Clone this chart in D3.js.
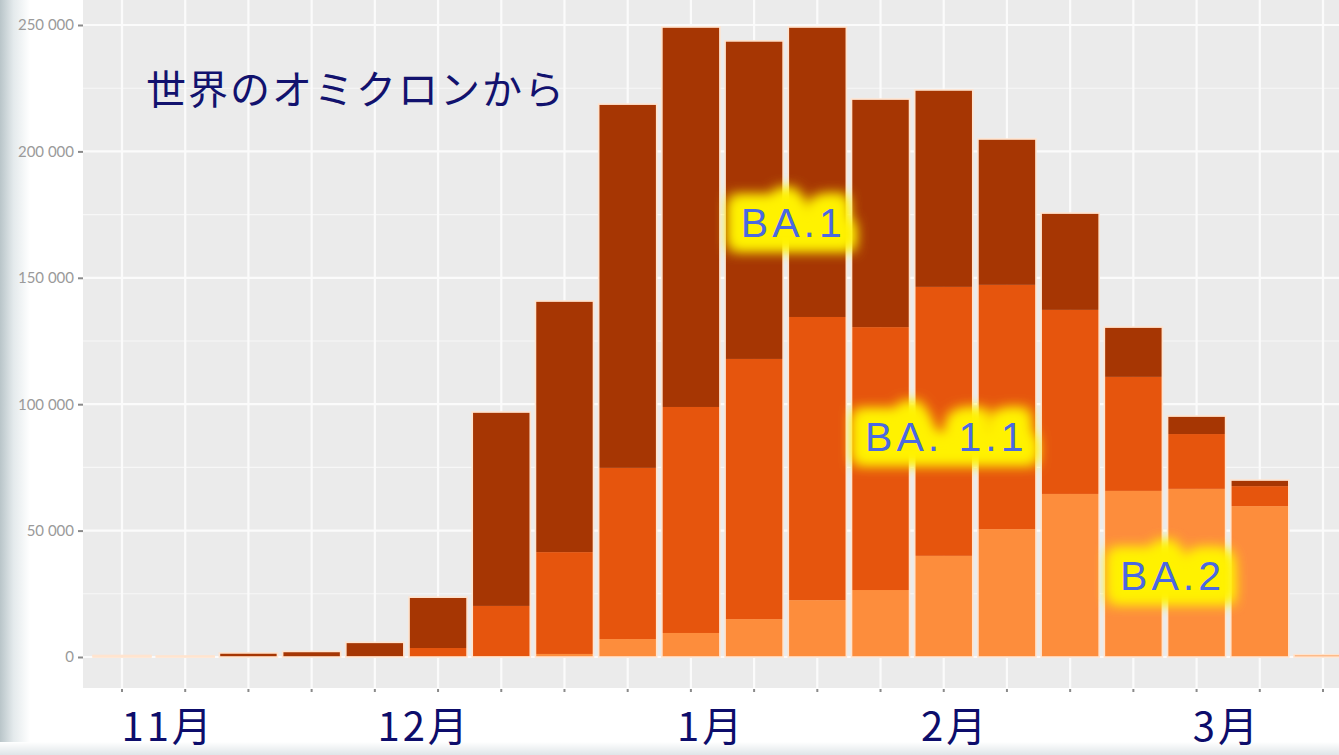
<!DOCTYPE html>
<html><head><meta charset="utf-8">
<script src="https://cdn.jsdelivr.net/npm/d3@7"></script>
<style>html,body{margin:0;padding:0;background:#fff;overflow:hidden}</style>
</head><body>
<svg id="c" width="1339" height="755"></svg>
<script>
// ---- data ----
const weeks = d3.range(20).map(i => "w" + (i + 1));
const ba2  = [0,   400, 0,    0,    0,    0,     300,   1200,  7100,   9500,   15000,  22500,  26500,  40000,  50600,  64500, 65700, 66500, 59700, 900];
const ba11 = [0,   0,   0,    0,    300,  3560,  19900, 40300, 67700,  89400,  102900, 112000, 104000, 106400, 96600,  72800, 45100, 21700, 7900,  0];
const ba1  = [600, 0,   1600, 2200, 5500, 20100, 76700, 99300, 143900, 150300, 125800, 114700, 90200,  77900,  57700,  38300, 19700, 7100,  2400,  0];
const seriesNames = ["BA.2", "BA.1.1", "BA.1"];
const yTicks = [0, 50000, 100000, 150000, 200000, 250000];
const titleText = "世界のオミクロンから";
const monthLabels = ["11月", "12月", "1月", "2月", "3月"];
const monthAt = [0.73, 4.78, 9.32, 13.18, 17.48];   // in week-index units
const variantLabels = ["BA.1", "BA. 1.1", "BA.2"];
const variantAtX = [10.62, 13.04, 16.62];             // week-index units
const variantAtY = [172000, 87500, 32500];            // value units

// ---- layout ----
const W = 1339, H = 755;
const panel = {x0: 83, x1: 1362, y0: 0, y1: 688};
const svg = d3.select("#c");
const defs = svg.append("defs");

const x = d3.scaleBand().domain(weeks).range([panel.x0, panel.x1]).paddingInner(0.082).paddingOuter(0.158);
const y = d3.scaleLinear().domain([0, 250000]).range([657, 25]);
const xi = i => x(weeks[0]) + x.bandwidth() / 2 + i * x.step();

const colors = {"BA.2": "#fd8d3c", "BA.1.1": "#e6550d", "BA.1": "#a63603"};

// left/bottom edge shading
const lg = defs.append("linearGradient").attr("id", "lg").attr("x1", 0).attr("x2", 1);
lg.append("stop").attr("offset", "0").attr("stop-color", "#b9c5c9");
lg.append("stop").attr("offset", "0.45").attr("stop-color", "#e4eaec");
lg.append("stop").attr("offset", "1").attr("stop-color", "#ffffff");
const bg = defs.append("linearGradient").attr("id", "bg").attr("x1", 0).attr("x2", 0).attr("y1", 0).attr("y2", 1);
bg.append("stop").attr("offset", "0").attr("stop-color", "#ffffff");
bg.append("stop").attr("offset", "1").attr("stop-color", "#dfe5e8");

svg.append("rect").attr("width", W).attr("height", H).attr("fill", "#fff");
svg.append("rect").attr("x", 0).attr("y", 0).attr("width", 30).attr("height", H).attr("fill", "url(#lg)");
svg.append("rect").attr("x", 0).attr("y", 742).attr("width", W).attr("height", 13).attr("fill", "url(#bg)");

// panel
defs.append("clipPath").attr("id", "pc").append("rect")
  .attr("x", panel.x0).attr("y", panel.y0).attr("width", W - panel.x0).attr("height", panel.y1 - panel.y0);
const g = svg.append("g").attr("clip-path", "url(#pc)");
g.append("rect").attr("x", panel.x0).attr("y", panel.y0).attr("width", panel.x1 - panel.x0).attr("height", panel.y1 - panel.y0).attr("fill", "#ebebeb");

// grid
const minor = d3.range(25000, 300000, 50000);
g.selectAll(".ymin").data(minor).join("line")
  .attr("x1", panel.x0).attr("x2", panel.x1).attr("y1", d => y(d)).attr("y2", d => y(d))
  .attr("stroke", "#f7f7f7").attr("stroke-width", 1.1);
g.selectAll(".ymaj").data(yTicks).join("line")
  .attr("x1", panel.x0).attr("x2", panel.x1).attr("y1", d => y(d)).attr("y2", d => y(d))
  .attr("stroke", "#fbfbfb").attr("stroke-width", 2.2);
g.selectAll(".xmaj").data(weeks).join("line")
  .attr("x1", d => x(d) + x.bandwidth() / 2).attr("x2", d => x(d) + x.bandwidth() / 2)
  .attr("y1", panel.y0).attr("y2", panel.y1)
  .attr("stroke", "#fbfbfb").attr("stroke-width", 2.2);

// stacked bars
const table = weeks.map((w, i) => ({week: w, "BA.2": ba2[i], "BA.1.1": ba11[i], "BA.1": ba1[i]}));
const stack = d3.stack().keys(seriesNames)(table);
g.selectAll(".layer").data(stack).join("g")
  .attr("fill", d => colors[d.key])
  .selectAll("rect").data(d => d).join("rect")
  .attr("x", d => x(d.data.week)).attr("width", x.bandwidth())
  .attr("y", d => y(d[1])).attr("height", d => Math.max(0, y(d[0]) - y(d[1])));
// bar outlines
g.selectAll(".outline").data(table).join("rect")
  .attr("x", d => x(d.week)).attr("width", x.bandwidth())
  .attr("y", d => y(d["BA.2"] + d["BA.1.1"] + d["BA.1"]))
  .attr("height", d => Math.max(0, y(0) - y(d["BA.2"] + d["BA.1.1"] + d["BA.1"])))
  .attr("fill", "none").attr("stroke", "#ffe4cf").attr("stroke-width", 1.6);

// axes
const fmt = d3.formatLocale({decimal: ".", thousands: " ", grouping: [3], currency: ["", ""]}).format(",d");
const ya = svg.append("g").attr("transform", `translate(${panel.x0},0)`)
  .call(d3.axisLeft(y).tickValues(yTicks).tickFormat(fmt).tickSize(5).tickPadding(4));
ya.select(".domain").remove();
ya.selectAll("line").attr("stroke", "#8a8a8a").attr("stroke-width", 2);
ya.selectAll("text").attr("fill", "#9a9a9a").style("font-family", "Lato, 'Open Sans', sans-serif").style("font-size", "15px");

const xa = svg.append("g").attr("transform", `translate(0,${panel.y1})`)
  .call(d3.axisBottom(x).tickSize(4).tickFormat(""));
xa.select(".domain").remove();
xa.selectAll("line").attr("stroke", "#8a8a8a").attr("stroke-width", 2).attr("y1", 1);

// title
svg.append("text").attr("x", 146).attr("y", 104).text(titleText)
  .attr("fill", "#12126e").style("font-family", "'Noto Sans CJK JP', sans-serif")
  .style("font-size", "40px").style("letter-spacing", "2px");

// month labels
svg.selectAll(".month").data(monthLabels).join("text")
  .attr("x", (d, i) => xi(monthAt[i])).attr("y", 741).attr("text-anchor", "middle")
  .text(d => d).attr("fill", "#0d0d6b")
  .style("font-family", "'Noto Sans CJK JP', sans-serif").style("font-size", "40px").style("letter-spacing", "3px");

// variant labels with yellow glow
const glow = defs.append("filter").attr("id", "glow").attr("x", "-40%").attr("y", "-100%").attr("width", "180%").attr("height", "300%");
glow.append("feMorphology").attr("operator", "dilate").attr("radius", "9 7");
glow.append("feGaussianBlur").attr("stdDeviation", 7);
const vl = svg.selectAll(".vl").data(variantLabels).join("g")
  .attr("transform", (d, i) => `translate(${xi(variantAtX[i])},${y(variantAtY[i])})`);
for (let k = 0; k < 2; k++) {
  vl.append("text").text(d => d).attr("text-anchor", "middle").attr("dy", "0.36em")
    .attr("fill", "#fff200").attr("stroke", "#fff200").attr("stroke-width", 10).attr("filter", "url(#glow)")
    .style("font-family", "'Liberation Sans', Arial, sans-serif").style("font-size", "41px").style("letter-spacing", "4px");
}
vl.append("text").text(d => d).attr("text-anchor", "middle").attr("dy", "0.36em")
  .attr("fill", "#4a68e2")
  .style("font-family", "'Liberation Sans', Arial, sans-serif").style("font-size", "41px").style("letter-spacing", "4px");
</script>
</body></html>
